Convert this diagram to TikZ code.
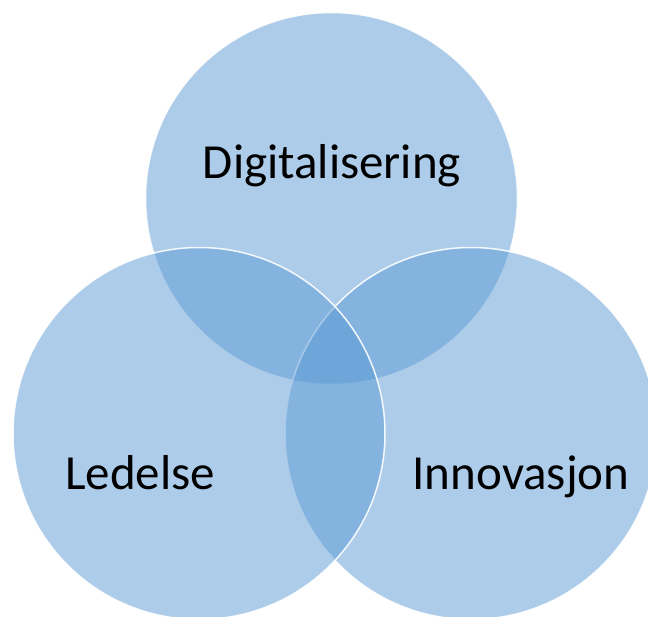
\documentclass[tikz,border=0pt]{standalone}
\usepackage{fontspec}
\setmainfont{Carlito}
\definecolor{accent}{HTML}{5B9BD5}
\begin{document}
\begin{tikzpicture}[x=1pt,y=-1pt,
  venn/.style={circle, inner sep=0pt, minimum size=372pt, fill=accent, fill opacity=0.5, draw=white, draw opacity=0.9, line width=1.5pt},
  lbl/.style={font=\fontsize{49}{54}\selectfont, text=black, anchor=base}]
\useasboundingbox (0,0) rectangle (648,616);
\clip (0,0) rectangle (648,616);
\fill[white] (0,0) rectangle (648,616);
\node[venn] (dig) at (331.5,198.5) {};
\node[venn] (inn) at (471,433.5) {};
\node[venn] (led) at (199,433.5) {};
\node[lbl] (tdig) at (332,178) {Digitalisering};
\node[lbl] (tled) at (140,489) {Ledelse};
\node[lbl] (tinn) at (521,489) {Innovasjon};
\end{tikzpicture}
\end{document}
